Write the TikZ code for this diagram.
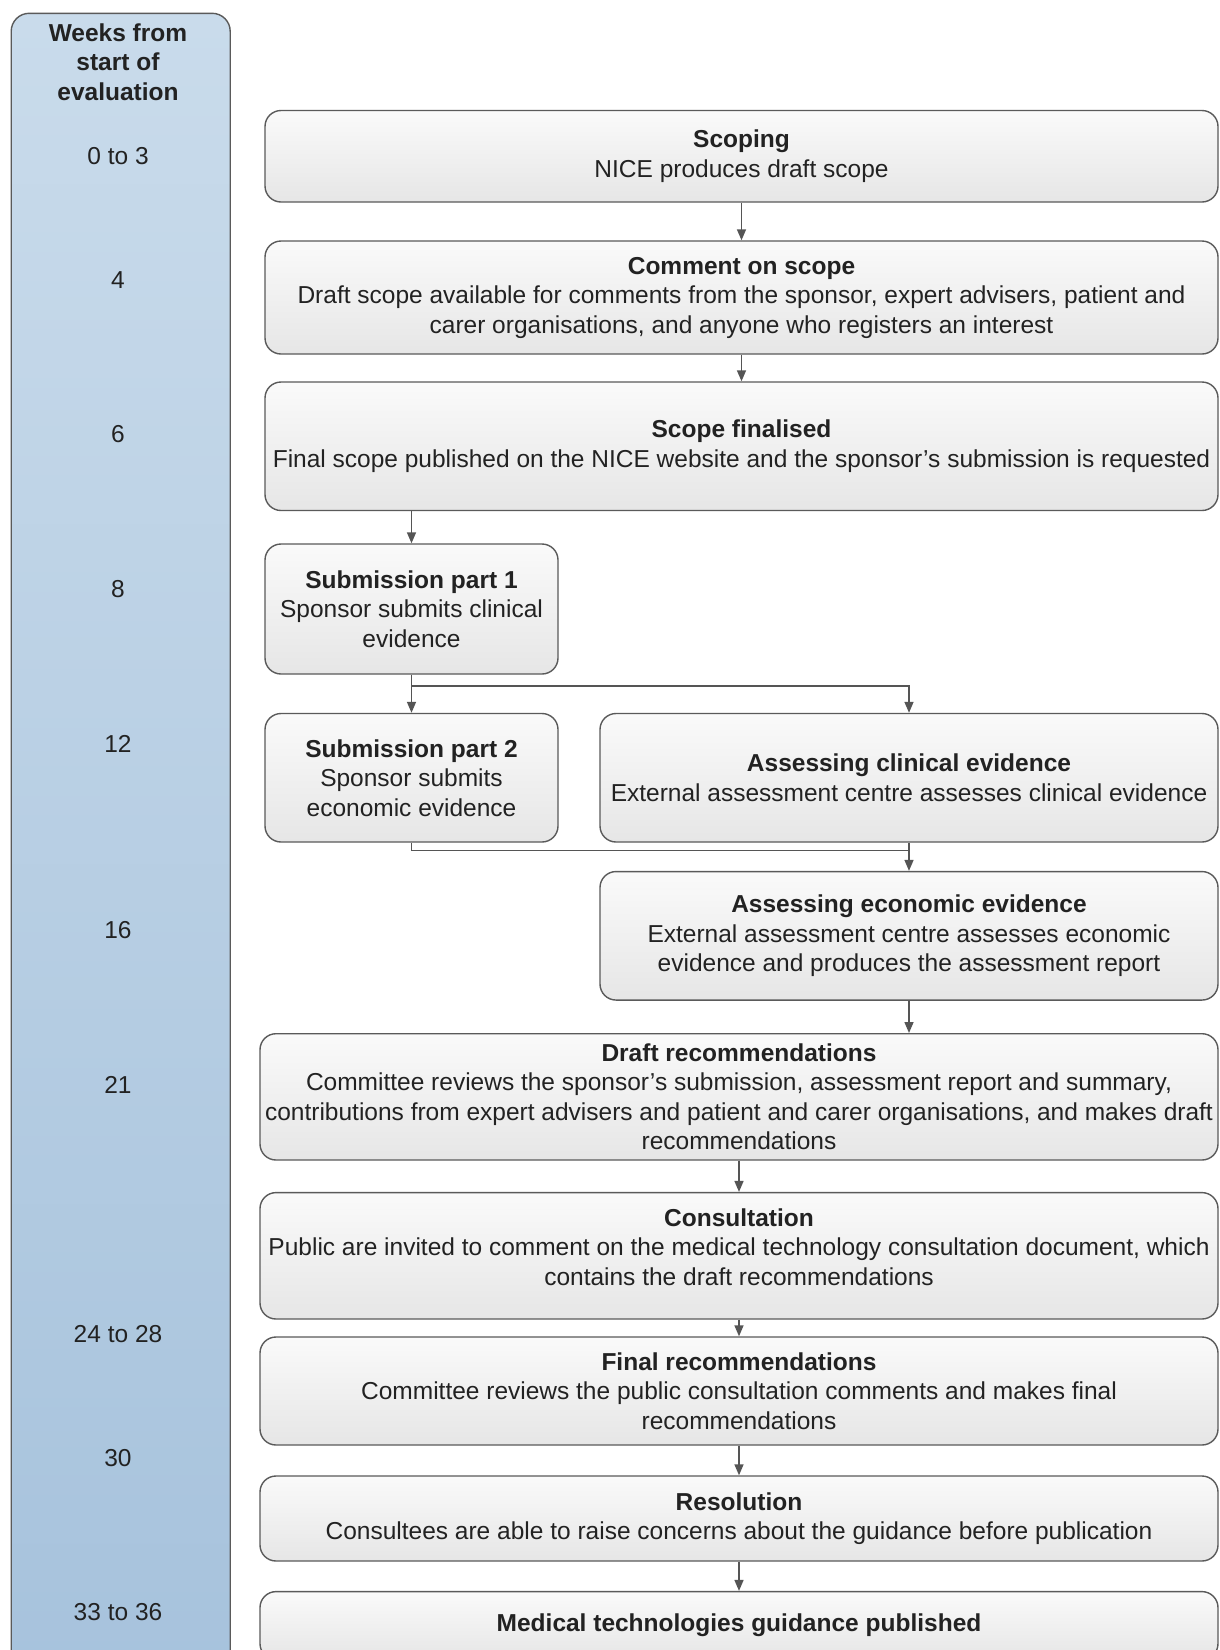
\documentclass[tikz,border=0pt]{standalone}
\usepackage{fontspec}
\setmainfont{Liberation Sans}
\usetikzlibrary{arrows.meta}
\definecolor{boxline}{HTML}{5A5A5A}
\definecolor{arrowc}{HTML}{555555}
\definecolor{boxtop}{HTML}{FAFAFA}
\definecolor{boxbot}{HTML}{E6E6E6}
\definecolor{coltop}{HTML}{C9DBEB}
\definecolor{colbot}{HTML}{A6C2DC}
\definecolor{txt}{HTML}{222222}
\begin{document}
\begin{tikzpicture}[x=1pt,y=-1pt,
  stage/.style={draw=boxline, line width=1.4pt, rounded corners=16pt, top color=boxtop, bottom color=boxbot, align=center, text=txt, font=\fontsize{24.5}{29.5}\selectfont, inner sep=0pt},
  weekcol/.style={draw=boxline, line width=1.4pt, rounded corners=18pt, top color=coltop, bottom color=colbot, inner sep=0pt},
  arr/.style={draw=arrowc, line width=1.5pt, -{Triangle[length=11pt,width=9pt]}},
  link/.style={draw=arrowc, line width=1.5pt},
  wk/.style={text=txt, font=\fontsize{24.5}{29.5}\selectfont, align=center, inner sep=0pt}]

\useasboundingbox (0,0) rectangle (1220,1650);
\clip (0,0) rectangle (1220,1650);
\fill[white] (0,0) rectangle (1220,1650);

% weeks column
\node[weekcol, minimum width=219pt, minimum height=1700pt, anchor=north west] (col) at (10.5,12.6) {};
\node[wk] (whead) at (118,62) {\textbf{Weeks from}\\\textbf{start of}\\\textbf{evaluation}};
\node[wk] (w1) at (118,156) {0 to 3};
\node[wk] (w2) at (118,280) {4};
\node[wk] (w3) at (118,434) {6};
\node[wk] (w4) at (118,589.5) {8};
\node[wk] (w5) at (118,744) {12};
\node[wk] (w6) at (118,930.5) {16};
\node[wk] (w7) at (118,1085) {21};
\node[wk] (w8) at (118,1334) {24 to 28};
\node[wk] (w9) at (118,1458) {30};
\node[wk] (w10) at (118,1612) {33 to 36};

% stages
\node[stage, minimum width=953pt, minimum height=91.5pt] (scoping) at (741.5,156.25)
  {\textbf{Scoping}\\NICE produces draft scope};
\node[stage, minimum width=953pt, minimum height=113pt] (comment) at (741.5,297.5)
  {\textbf{Comment on scope}\\Draft scope available for comments from the sponsor, expert advisers, patient and\\carer organisations, and anyone who registers an interest};
\node[stage, minimum width=953pt, minimum height=128.5pt] (scopefin) at (741.5,446.25)
  {\textbf{Scope finalised}\\Final scope published on the NICE website and the sponsor's submission is requested};
\node[stage, minimum width=293pt, minimum height=130pt] (sub1) at (411.5,609)
  {\textbf{Submission part 1}\\Sponsor submits clinical\\evidence};
\node[stage, minimum width=293pt, minimum height=128.5pt] (sub2) at (411.5,777.75)
  {\textbf{Submission part 2}\\Sponsor submits\\economic evidence};
\node[stage, minimum width=618pt, minimum height=128.5pt] (clin) at (909,777.75)
  {\textbf{Assessing clinical evidence}\\External assessment centre assesses clinical evidence};
\node[stage, minimum width=618pt, minimum height=128.5pt] (econ) at (909,935.8)
  {\textbf{Assessing economic evidence}\\External assessment centre assesses economic\\evidence and produces the assessment report};
\node[stage, minimum width=958pt, minimum height=126.3pt] (draft) at (739,1096.85)
  {\textbf{Draft recommendations}\\Committee reviews the sponsor's submission, assessment report and summary,\\contributions from expert advisers and patient and carer organisations, and makes draft\\recommendations};
\node[stage, minimum width=958pt, minimum height=126.4pt] (consult) at (739,1255.8)
  {\textbf{Consultation}\\Public are invited to comment on the medical technology consultation document, which\\contains the draft recommendations\\[-12pt]\mbox{}};
\node[stage, minimum width=958pt, minimum height=108pt] (final) at (739,1391)
  {\textbf{Final recommendations}\\Committee reviews the public consultation comments and makes final\\recommendations};
\node[stage, minimum width=958pt, minimum height=85pt] (resol) at (739,1518.5)
  {\textbf{Resolution}\\Consultees are able to raise concerns about the guidance before publication};
\node[stage, minimum width=958pt, minimum height=68pt] (pub) at (739,1625.6)
  {\textbf{Medical technologies guidance published}};

% connectors
\draw[arr] (scoping.south) -- (comment.north);
\draw[arr] (comment.south) -- (scopefin.north);
\draw[arr] (scopefin.south -| sub1.north) -- (sub1.north);
\draw[arr] (sub1.south) -- (sub2.north);
\coordinate (br) at (411.5,686);
\draw[arr] (sub1.south) -- (br) -| (clin.north);
\coordinate (mg) at (909,850.5);
\draw[link] (sub2.south) |- (mg);
\draw[arr] (clin.south) -- (econ.north);
\draw[arr] (econ.south) -- (econ.south |- draft.north);
\draw[arr] (draft.south) -- (consult.north);
\draw[arr] (consult.south) -- (final.north);
\draw[arr] (final.south) -- (resol.north);
\draw[arr] (resol.south) -- (pub.north);
\end{tikzpicture}
\end{document}
